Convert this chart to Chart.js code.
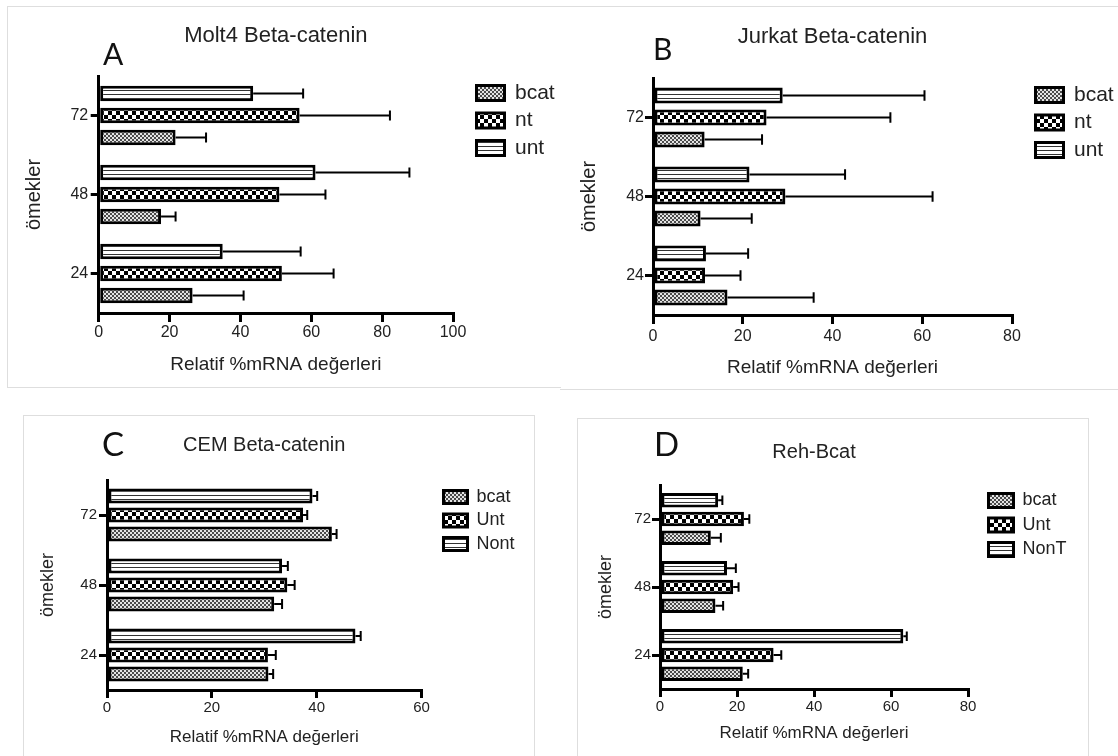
<!DOCTYPE html>
<html>
<head>
<meta charset="utf-8">
<script src="https://cdn.jsdelivr.net/npm/chart.js@4"></script>
<style>
  body { margin: 0; background: #fff; width: 1118px; height: 756px; position: relative; overflow: hidden; }
  .frame { position: absolute; border: 1px solid #dedede; }
  canvas { position: absolute; }
  .letter { position: absolute; font-family: Lato, "Open Sans", sans-serif; line-height: 1; color: #111; }
</style>
</head>
<body>
<div class="frame" style="left:7px;top:6px;width:553px;height:380px;border-right:none"></div>
<div class="frame" style="left:560px;top:6px;width:600px;height:382px;border-left:none"></div>
<div class="frame" style="left:23px;top:415px;width:510px;height:400px"></div>
<div class="frame" style="left:577px;top:418px;width:510px;height:400px"></div>

<canvas id="chartA" width="620" height="380" style="left:8px;top:7px"></canvas>
<canvas id="chartB" width="620" height="381" style="left:560px;top:7px"></canvas>
<canvas id="chartC" width="560" height="340" style="left:24px;top:416px"></canvas>
<canvas id="chartD" width="560" height="337" style="left:578px;top:419px"></canvas>

<div class="letter" style="left:103px;top:38px;font-size:30px">A</div>
<div class="letter" style="left:653px;top:33px;font-size:30px">B</div>
<div class="letter" style="left:102px;top:427px;font-size:33px">C</div>
<div class="letter" style="left:654px;top:427px;font-size:33px">D</div>

<script>
// time points, listed top to bottom as in the figure
const hours = ['72', '48', '24'];

// A - Molt4
const molt4Unt = [43.6, 61.2, 35.0];
const molt4UntErr = [14.1, 26.5, 22.0];
const molt4Nt = [56.7, 51.0, 51.7];
const molt4NtErr = [25.5, 13.0, 14.6];
const molt4Bcat = [21.7, 17.6, 26.5];
const molt4BcatErr = [8.6, 4.1, 14.4];

// B - Jurkat
const jurkatUnt = [28.9, 21.5, 11.8];
const jurkatUntErr = [31.6, 21.3, 9.4];
const jurkatNt = [25.3, 29.5, 11.6];
const jurkatNtErr = [27.6, 32.8, 7.9];
const jurkatBcat = [11.5, 10.6, 16.6];
const jurkatBcatErr = [12.8, 11.4, 19.2];

// C - CEM
const cemNont = [39.2, 33.4, 47.4];
const cemNontErr = [0.9, 1.1, 1.0];
const cemUnt = [37.4, 34.4, 30.7];
const cemUntErr = [0.8, 1.4, 1.5];
const cemBcat = [42.9, 31.9, 30.8];
const cemBcatErr = [0.9, 1.5, 0.9];

// D - Reh
const rehNonT = [15.1, 17.4, 63.2];
const rehNonTErr = [1.1, 2.3, 0.9];
const rehUnt = [21.8, 19.0, 29.5];
const rehUntErr = [1.4, 1.4, 2.0];
const rehBcat = [13.2, 14.4, 21.5];
const rehBcatErr = [2.6, 2.0, 1.4];

const xTitle = 'Relatif %mRNA değerleri';
const yTitle = 'ömekler';

const fontFamily = "'Liberation Sans', Arial, sans-serif";
Chart.defaults.font.family = fontFamily;
Chart.defaults.color = '#222';

function tile(w, h, draw) {
    const c = document.createElement('canvas');
    c.width = w;
    c.height = h;
    const t = c.getContext('2d');
    draw(t);
    return t.createPattern(c, 'repeat');
}

const dots = tile(4, 4, t => {
    t.fillStyle = '#e4e4e4'; t.fillRect(0, 0, 4, 4);
    t.fillStyle = '#4a4a4a'; t.fillRect(0, 0, 2, 2); t.fillRect(2, 2, 2, 2);
});
const checks = tile(8, 8, t => {
    t.fillStyle = '#000'; t.fillRect(0, 0, 8, 8);
    t.fillStyle = '#fff'; t.fillRect(0, 0, 4, 4); t.fillRect(4, 4, 4, 4);
});
const stripes = tile(4, 4, t => {
    t.fillStyle = '#fff'; t.fillRect(0, 0, 4, 4);
    t.fillStyle = '#333'; t.fillRect(0, 3, 4, 1);
});

// one-sided error bars with a cap
const errorBars = {
    id: 'errorBars',
    afterDatasetsDraw(chart) {
        const ctx = chart.ctx;
        const xs = chart.scales.x;
        ctx.save();
        ctx.strokeStyle = '#000';
        ctx.lineWidth = 2;
        chart.data.datasets.forEach((ds, i) => {
            chart.getDatasetMeta(i).data.forEach((bar, j) => {
                const end = xs.getPixelForValue(ds.data[j] + ds.errors[j]);
                const half = bar.height * 0.33;
                ctx.beginPath();
                ctx.moveTo(bar.x, bar.y);
                ctx.lineTo(end, bar.y);
                ctx.moveTo(end, bar.y - half);
                ctx.lineTo(end, bar.y + half);
                ctx.stroke();
            });
        });
        ctx.restore();
    }
};

// same sum the legend uses for its own width, so the plot edge lands where wanted
function legendWidth(g, labels) {
    const m = document.createElement('canvas').getContext('2d');
    m.font = g.legFont + 'px ' + fontFamily;
    const widest = Math.max(...labels.map(l => m.measureText(l).width));
    return g.legPad + g.boxW + g.legFont / 2 + widest + 10;
}

function makeChart(id, title, xMax, sets, g) {
    const canvas = document.getElementById(id);
    const legendTitle = g.legOff > 0
        ? { display: true, text: ' ', padding: 0, font: { size: g.legOff, lineHeight: 1 } }
        : { display: false };
    const padRight = canvas.width - g.right - g.gap - legendWidth(g, sets.map(s => s.label));

    new Chart(canvas, {
        type: 'bar',
        data: {
            labels: hours,
            datasets: sets.map(s => ({
                label: s.label,
                data: s.data,
                errors: s.err,
                backgroundColor: s.fill,
                borderColor: '#000',
                borderWidth: 3,
                borderSkipped: false,
                categoryPercentage: g.cat,
                barPercentage: g.bar,
                yAxisID: 'y'
            }))
        },
        options: {
            indexAxis: 'y',
            responsive: false,
            animation: false,
            devicePixelRatio: 1,
            layout: { padding: { left: 0, top: 0, right: padRight, bottom: 0 } },
            plugins: {
                title: {
                    display: true,
                    fullSize: false,
                    text: title,
                    color: '#222',
                    font: { size: g.titleFont, weight: 'normal' },
                    padding: { top: g.titleTop, bottom: g.titleBottom }
                },
                legend: {
                    position: 'right',
                    align: 'start',
                    reverse: true,
                    fullSize: false,
                    maxWidth: 300,
                    title: legendTitle,
                    labels: {
                        color: '#222',
                        font: { size: g.legFont },
                        boxWidth: g.boxW,
                        boxHeight: g.boxH,
                        padding: g.legPad
                    }
                },
                tooltip: { enabled: false }
            },
            scales: {
                x: {
                    min: 0,
                    max: xMax,
                    ticks: { stepSize: 20, color: '#222', font: { size: g.tickFont }, padding: g.xTickPad },
                    grid: { drawOnChartArea: false, color: '#000', lineWidth: 3, tickLength: g.xTickLen },
                    border: { color: '#000', width: 3 },
                    title: {
                        display: true, text: xTitle, color: '#222',
                        font: { size: g.xTitleFont },
                        padding: { top: 0, bottom: g.xTitlePad }
                    },
                    afterFit: s => { s.height = g.xHeight; }
                },
                y: {
                    ticks: { color: '#222', font: { size: g.tickFont }, padding: g.yTickPad },
                    grid: { offset: false, drawOnChartArea: false, color: '#000', lineWidth: 3, tickLength: 8 },
                    border: { color: '#000', width: 3 },
                    title: {
                        display: true, text: yTitle, color: '#222',
                        font: { size: g.yTitleFont },
                        padding: { top: g.yTitlePad, bottom: 0 }
                    },
                    afterFit: s => { s.width = g.yWidth; }
                },
                // empty axis that only keeps the legend away from the plot
                gap: {
                    type: 'category',
                    axis: 'y',
                    position: 'right',
                    grid: { display: false },
                    border: { display: false },
                    ticks: { display: false },
                    afterFit: s => { s.width = g.gap; }
                }
            }
        },
        plugins: [errorBars]
    });
}

makeChart('chartA', 'Molt4 Beta-catenin', 100, [
    { label: 'unt', data: molt4Unt, err: molt4UntErr, fill: stripes },
    { label: 'nt', data: molt4Nt, err: molt4NtErr, fill: checks },
    { label: 'bcat', data: molt4Bcat, err: molt4BcatErr, fill: dots }
], {
    right: 445,
    titleFont: 22, titleTop: 15.3, titleBottom: 27.3,
    legFont: 21, boxW: 28, boxH: 15, legPad: 6.5, legOff: 0, gap: 17,
    yWidth: 90.7, yTickPad: 2.5, yTitleFont: 20, yTitlePad: 14,
    xHeight: 74, xTickLen: 9, xTickPad: 1.4, tickFont: 16, xTitleFont: 19, xTitlePad: 10.6,
    cat: 0.835, bar: 0.70
});

makeChart('chartB', 'Jurkat Beta-catenin', 80, [
    { label: 'unt', data: jurkatUnt, err: jurkatUntErr, fill: stripes },
    { label: 'nt', data: jurkatNt, err: jurkatNtErr, fill: checks },
    { label: 'bcat', data: jurkatBcat, err: jurkatBcatErr, fill: dots }
], {
    right: 452,
    titleFont: 22, titleTop: 16.8, titleBottom: 27.8,
    legFont: 21, boxW: 28, boxH: 15, legPad: 6.5, legOff: 0, gap: 17,
    yWidth: 93, yTickPad: 1, yTitleFont: 20, yTitlePad: 17,
    xHeight: 73, xTickLen: 9, xTickPad: 3.4, tickFont: 16, xTitleFont: 19, xTitlePad: 8.6,
    cat: 0.835, bar: 0.73
});

makeChart('chartC', 'CEM Beta-catenin', 60, [
    { label: 'Nont', data: cemNont, err: cemNontErr, fill: stripes },
    { label: 'Unt', data: cemUnt, err: cemUntErr, fill: checks },
    { label: 'bcat', data: cemBcat, err: cemBcatErr, fill: dots }
], {
    right: 397.5,
    titleFont: 20, titleTop: 17, titleBottom: 23,
    legFont: 18, boxW: 24, boxH: 13, legPad: 5.5, legOff: 2.5, gap: 16.5,
    yWidth: 83, yTickPad: 2, yTitleFont: 18, yTitlePad: 13.2,
    xHeight: 66, xTickLen: 8, xTickPad: 1, tickFont: 15, xTitleFont: 17, xTitlePad: 8.8,
    cat: 0.814, bar: 0.79
});

makeChart('chartD', 'Reh-Bcat', 80, [
    { label: 'NonT', data: rehNonT, err: rehNonTErr, fill: stripes },
    { label: 'Unt', data: rehUnt, err: rehUntErr, fill: checks },
    { label: 'bcat', data: rehBcat, err: rehBcatErr, fill: dots }
], {
    right: 390,
    titleFont: 20, titleTop: 21, titleBottom: 21,
    legFont: 18, boxW: 25, boxH: 14, legPad: 6.5, legOff: 0, gap: 14,
    yWidth: 82, yTickPad: 1, yTitleFont: 18, yTitlePad: 17.2,
    xHeight: 67, xTickLen: 8, xTickPad: 1, tickFont: 15, xTitleFont: 17, xTitlePad: 12.8,
    cat: 0.825, bar: 0.78
});
</script>
</body>
</html>
